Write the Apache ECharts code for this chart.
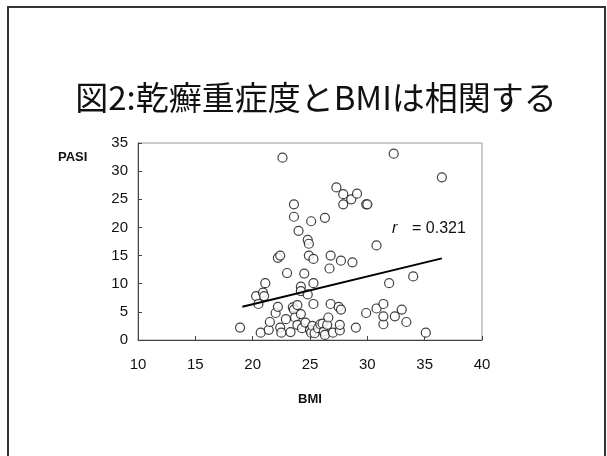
<!DOCTYPE html>
<html>
<head>
<meta charset="utf-8">
<script src="https://cdn.jsdelivr.net/npm/echarts@6/dist/echarts.min.js"></script>
<style>
    html, body { margin: 0; padding: 0; background: #fff; }
    #chart { width: 607px; height: 456px; }
</style>
</head>
<body>
<div id="chart"></div>
<script>
// 図2 乾癬重症度とBMI

// 患者ごとの BMI（横軸）
const bmi = [
    18.9, 20.7, 20.3, 20.5, 20.9, 21.0, 21.1, 21.4, 21.5, 22.0,
    22.2, 22.2, 22.4, 22.4, 22.5, 22.6, 22.9, 23.0, 23.3, 23.5,
    23.6, 23.6, 23.6, 23.7, 23.9, 23.9, 24.0, 24.2, 24.2, 24.2,
    24.3, 24.5, 24.6, 24.8, 24.8, 24.9, 24.9, 25.0, 25.1, 25.1,
    25.3, 25.3, 25.3, 25.2, 25.4, 25.7, 25.9, 26.1, 26.2, 26.3,
    26.3, 26.5, 26.6, 26.7, 26.8, 26.8, 27.0, 27.3, 27.5, 27.6,
    27.6, 27.7, 27.7, 27.9, 27.9, 28.6, 28.7, 29.0, 29.1, 29.9,
    30.0, 29.9, 30.8, 30.8, 31.4, 31.4, 31.4, 31.9, 32.3, 32.4,
    33.0, 33.4, 34.0, 35.1, 36.5
];

// 患者ごとの PASI（縦軸）
const pasi = [
    2.2, 1.3, 7.8, 6.4, 8.4, 7.8, 10.1, 1.8, 3.2, 4.8,
    5.9, 14.6, 15.0, 2.2, 1.3, 32.4, 3.7, 11.9, 1.4, 5.8,
    5.4, 24.1, 21.9, 4.0, 6.2, 2.7, 19.4, 9.5, 8.7, 4.6,
    2.1, 11.8, 3.1, 8.1, 17.8, 17.1, 15.0, 1.8, 1.3, 21.1,
    14.4, 10.1, 6.4, 2.5, 1.2, 2.1, 2.8, 2.9, 1.5, 0.9,
    21.7, 2.7, 4.0, 12.7, 6.4, 15.0, 1.3, 27.1, 5.9, 1.7,
    2.7, 5.4, 14.1, 25.9, 24.1, 25.0, 13.8, 2.2, 26.0, 24.1,
    24.1, 4.8, 16.8, 5.6, 2.8, 6.4, 4.2, 10.1, 33.1, 4.2,
    5.4, 3.2, 11.3, 1.3, 28.9
];

// 回帰直線の両端
const fitBmi = [19.1, 36.5];
const fitPasi = [5.9, 14.5];

// 軸目盛
const xTicks = { min: 10, max: 40, step: 5 };
const yTicks = { min: 0, max: 35, step: 5 };

const titleText = '図2:乾癬重症度とBMIは相関する';
const corrLabel = '0.321';

const LABEL_FONT = "'Liberation Sans', 'Noto Sans CJK JP', sans-serif";

// 散布図・回帰直線データ
let points = [];
for (let i = 0; i < bmi.length; i++) {
    points.push([bmi[i], pasi[i]]);
}
let fitLine = [];
for (let i = 0; i < fitBmi.length; i++) {
    fitLine.push([fitBmi[i], fitPasi[i]]);
}

let chart = echarts.init(document.getElementById('chart'), null, { renderer: 'canvas' });

let option = {
    backgroundColor: '#fff',
    animation: false,
    title: {
        text: titleText,
        left: 311,
        top: 76,
        textAlign: 'center',
        textStyle: {
            fontFamily: "'Noto Sans CJK JP', sans-serif",
            fontSize: 33,
            fontWeight: 'normal',
            color: '#111'
        }
    },
    grid: {
        left: 138,
        right: 125,
        top: 143,
        bottom: 116,
        show: true,
        borderColor: '#999',
        borderWidth: 1
    },
    xAxis: {
        type: 'value',
        min: xTicks.min,
        max: xTicks.max,
        interval: xTicks.step,
        name: 'BMI',
        nameLocation: 'middle',
        nameGap: 53,
        nameTextStyle: { fontFamily: LABEL_FONT, fontSize: 13, fontWeight: 'bold', color: '#111' },
        axisLine: { lineStyle: { color: '#444', width: 1 } },
        axisTick: { inside: true, length: 4, lineStyle: { color: '#444' } },
        axisLabel: { margin: 17, fontFamily: LABEL_FONT, fontSize: 15, color: '#111' },
        splitLine: { show: false }
    },
    yAxis: {
        type: 'value',
        min: yTicks.min,
        max: yTicks.max,
        interval: yTicks.step,
        axisLine: { show: true, lineStyle: { color: '#444', width: 1 } },
        axisTick: { show: true, inside: true, length: 4, lineStyle: { color: '#444' } },
        axisLabel: { margin: 10, fontFamily: LABEL_FONT, fontSize: 15, color: '#111' },
        splitLine: { show: false }
    },
    graphic: [
        // 外枠
        {
            type: 'rect',
            shape: { x: 8, y: 7, width: 597, height: 470 },
            style: { fill: null, stroke: '#333', lineWidth: 2 },
            silent: true
        },
        // 縦軸名
        {
            type: 'text',
            left: 58,
            top: 151,
            style: {
                text: 'PASI',
                font: "bold 13px " + LABEL_FONT,
                fill: '#111'
            }
        },
        // 相関係数
        {
            type: 'text',
            left: 392,
            top: 221,
            style: {
                text: '{r|r}{v|= ' + corrLabel + '}',
                rich: {
                    r: { font: "italic 16px " + LABEL_FONT, fill: '#111', width: 20 },
                    v: { font: "16px " + LABEL_FONT, fill: '#111' }
                }
            }
        }
    ],
    series: [
        {
            type: 'scatter',
            data: points,
            symbol: 'circle',
            symbolSize: 9,
            itemStyle: {
                color: '#fff',
                borderColor: '#111',
                borderWidth: 1.2
            },
            z: 3
        },
        {
            type: 'line',
            data: fitLine,
            symbol: 'none',
            lineStyle: { color: '#000', width: 2 },
            z: 4
        }
    ]
};

chart.setOption(option);
</script>
</body>
</html>
